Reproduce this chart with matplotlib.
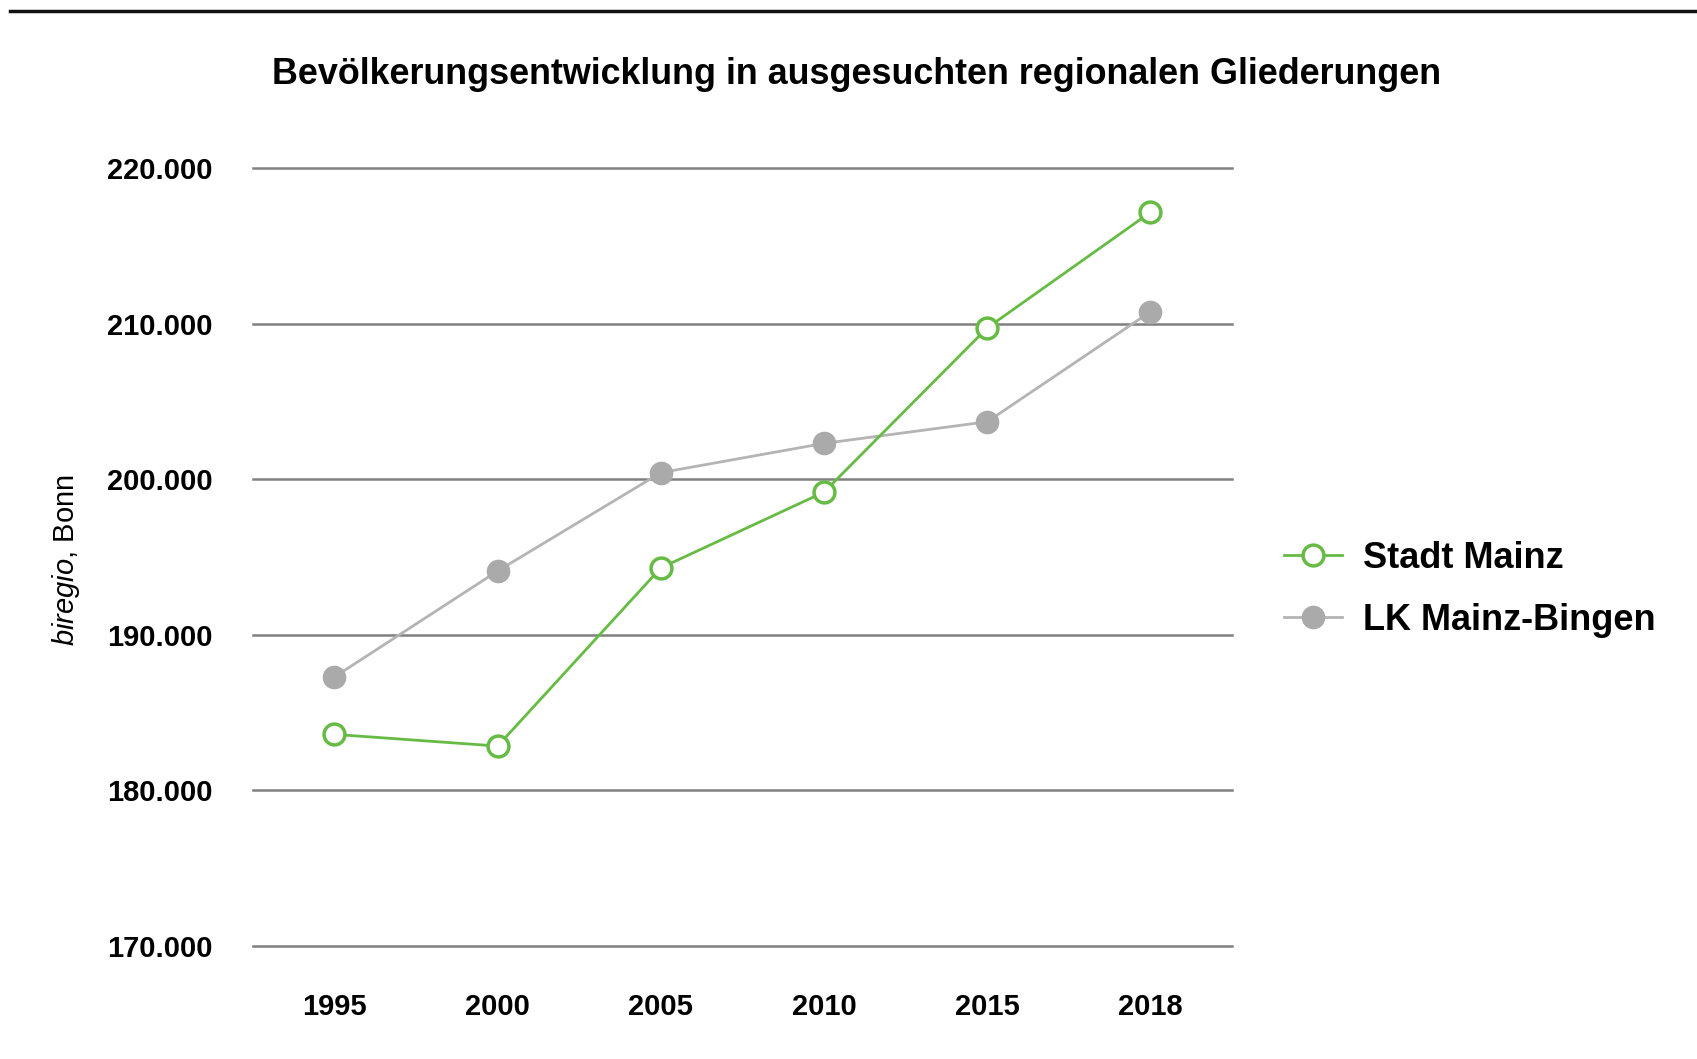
import matplotlib
matplotlib.use("Agg")
import matplotlib.pyplot as plt
from matplotlib.lines import Line2D

years = ["1995", "2000", "2005", "2010", "2015", "2018"]
stadt_mainz = [183600, 182850, 194300, 199170, 209720, 217150]
lk_mainz_bingen = [187290, 194100, 200420, 202300, 203690, 210760]
y_ticks = [170000, 180000, 190000, 200000, 210000, 220000]
y_tick_labels = ["170.000", "180.000", "190.000", "200.000", "210.000", "220.000"]

green = "#66bb44"
grey_line = "#b4b4b4"
grey_marker = "#aaaaaa"

plt.rcParams["font.family"] = ["Liberation Sans", "DejaVu Sans"]
plt.rcParams["mathtext.fontset"] = "custom"
plt.rcParams["mathtext.rm"] = "Liberation Sans"
plt.rcParams["mathtext.it"] = "Liberation Sans:italic"

fig = plt.figure(figsize=(16.97, 10.59), dpi=100)
ax = fig.add_axes([0.149, 0.1067, 0.577, 0.7347])

x = list(range(len(years)))
ax.plot(x, lk_mainz_bingen, color=grey_line, lw=2, marker="o", ms=16,
        mfc=grey_marker, mec=grey_marker, label="LK Mainz-Bingen", zorder=3)
ax.plot(x, stadt_mainz, color=green, lw=2, marker="o", ms=15,
        mfc="white", mec=green, mew=2.5, label="Stadt Mainz", zorder=4)

ax.set_xlim(-0.5, len(years) - 0.5)
ax.set_ylim(170000, 220000)
ax.set_xticks(x)
ax.set_xticklabels(years)
ax.set_yticks(y_ticks)
ax.set_yticklabels(y_tick_labels)
ax.tick_params(length=0, labelsize=21)
ax.tick_params(axis="y", pad=29)
ax.tick_params(axis="x", pad=34)
for lab in ax.get_xticklabels() + ax.get_yticklabels():
    lab.set_fontweight("bold")
ax.grid(axis="y", color="#808080", lw=1.8)
for gl in ax.yaxis.get_gridlines():
    gl.set_clip_on(False)
ax.set_axisbelow(True)
for s in ax.spines.values():
    s.set_visible(False)

fig.text(0.505, 0.93, "Bevölkerungsentwicklung in ausgesuchten regionalen Gliederungen",
         ha="center", va="center", fontsize=25.8, fontweight="bold")
fig.text(0.039, 0.471, r"$\it{biregio}$, Bonn", rotation=90, ha="center", va="center",
         fontsize=21)

handles, labels = ax.get_legend_handles_labels()
leg = fig.legend(handles[::-1], labels[::-1], loc="center left",
                 bbox_to_anchor=(0.7374, 0.4435), frameon=False,
                 prop={"weight": "bold", "size": 26}, handlelength=1.6,
                 handletextpad=0.6, labelspacing=0.75, markerscale=1.0)

fig.add_artist(Line2D([0.006, 1.0], [0.99, 0.99], color="#111111", lw=2.5))

fig.savefig("out.png", dpi=100)
